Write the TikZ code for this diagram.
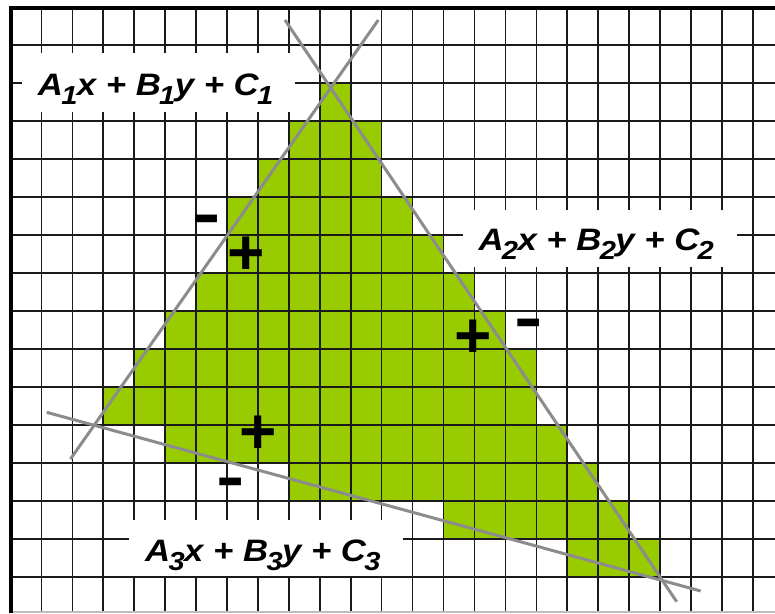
\documentclass[tikz,border=0pt]{standalone}
\usepackage{fontspec}
\setmainfont{Liberation Sans}
\definecolor{cellgreen}{HTML}{99CC00}
\definecolor{edgegray}{HTML}{8C8C8C}
\definecolor{gridblack}{HTML}{1A1A1A}
\newcommand\eqsub[1]{\kern-1.5pt\raisebox{-9pt}{\fontsize{26}{26}\selectfont #1}\kern-0.5pt}
\newcommand\eqline[1]{\scalebox{1.12}[1]{#1}}
\begin{document}
\begin{tikzpicture}[x=1pt,y=-1pt,
  gridline/.style={draw=gridblack,line width=1.6pt},
  edgeline/.style={draw=edgegray,line width=3pt},
  eqtext/.style={anchor=base west,inner sep=0pt,font=\fontsize{31}{31}\selectfont\bfseries\itshape},
  signtext/.style={inner sep=0pt,font=\fontsize{64}{64}\selectfont\bfseries}]
\useasboundingbox (0,0) rectangle (775,613);
\fill[white] (0,0) rectangle (775,613);
% green cells
\foreach \r/\a/\b in {2/10/10,3/9/11,4/8/11,5/7/12,6/7/13,7/6/14,8/5/15,9/4/16,10/3/16,11/5/17,12/9/18,13/14/19,14/18/20}
  \fill[cellgreen] ({10.5+30.93*\a},{6.7+38*\r}) rectangle ({10.5+30.93*(\b+1)},{6.7+38*(\r+1)});
% grid
\foreach \k in {1,...,24}
  \draw[gridline] ({10.5+30.93*\k},6.7) -- ({10.5+30.93*\k},613);
\foreach \k in {1,...,15}
  \draw[gridline] (10.5,{6.7+38*\k}) -- (775,{6.7+38*\k});
% frame
\draw[black!25,line width=2pt] (11,612) -- (775,612);
\draw[black,line width=4pt] (11,613) -- (11,7.5) -- (775,7.5);
% edge lines
\coordinate (l1a) at (378.3,20);
\coordinate (l1b) at (70.5,459);
\coordinate (l2a) at (285,20);
\coordinate (l2b) at (676.7,601.7);
\coordinate (l3a) at (46.7,412.3);
\coordinate (l3b) at (700.7,591);
\draw[edgeline] (l1a) -- (l1b);
\draw[edgeline] (l2a) -- (l2b);
\draw[edgeline] (l3a) -- (l3b);
% label boxes
\fill[white] (21.7,53.3) rectangle (295,111.7);
\fill[white] (462.7,210) rectangle (737.3,266.7);
\fill[white] (129.3,520) rectangle (403.3,575.5);
\node[eqtext] (eq1) at (37.7,95) {\eqline{A\eqsub{1}x + B\eqsub{1}y + C\eqsub{1}}};
\node[eqtext] (eq2) at (478.3,250) {\eqline{A\eqsub{2}x + B\eqsub{2}y + C\eqsub{2}}};
\node[eqtext] (eq3) at (145,561.7) {\eqline{A\eqsub{3}x + B\eqsub{3}y + C\eqsub{3}}};
% signs
\node[signtext] (m1) at (206.3,225.5) {\scalebox{1.33}[1]{-}};
\node[signtext] (p1) at (245.8,256) {+};
\node[signtext] (m2) at (528.8,328.8) {\scalebox{1.33}[1]{-}};
\node[signtext] (p2) at (472.8,339.2) {+};
\node[signtext] (p3) at (258.3,434.8) {+};
\node[signtext] (m3) at (230.8,488) {\scalebox{1.33}[1]{-}};
\end{tikzpicture}
\end{document}
